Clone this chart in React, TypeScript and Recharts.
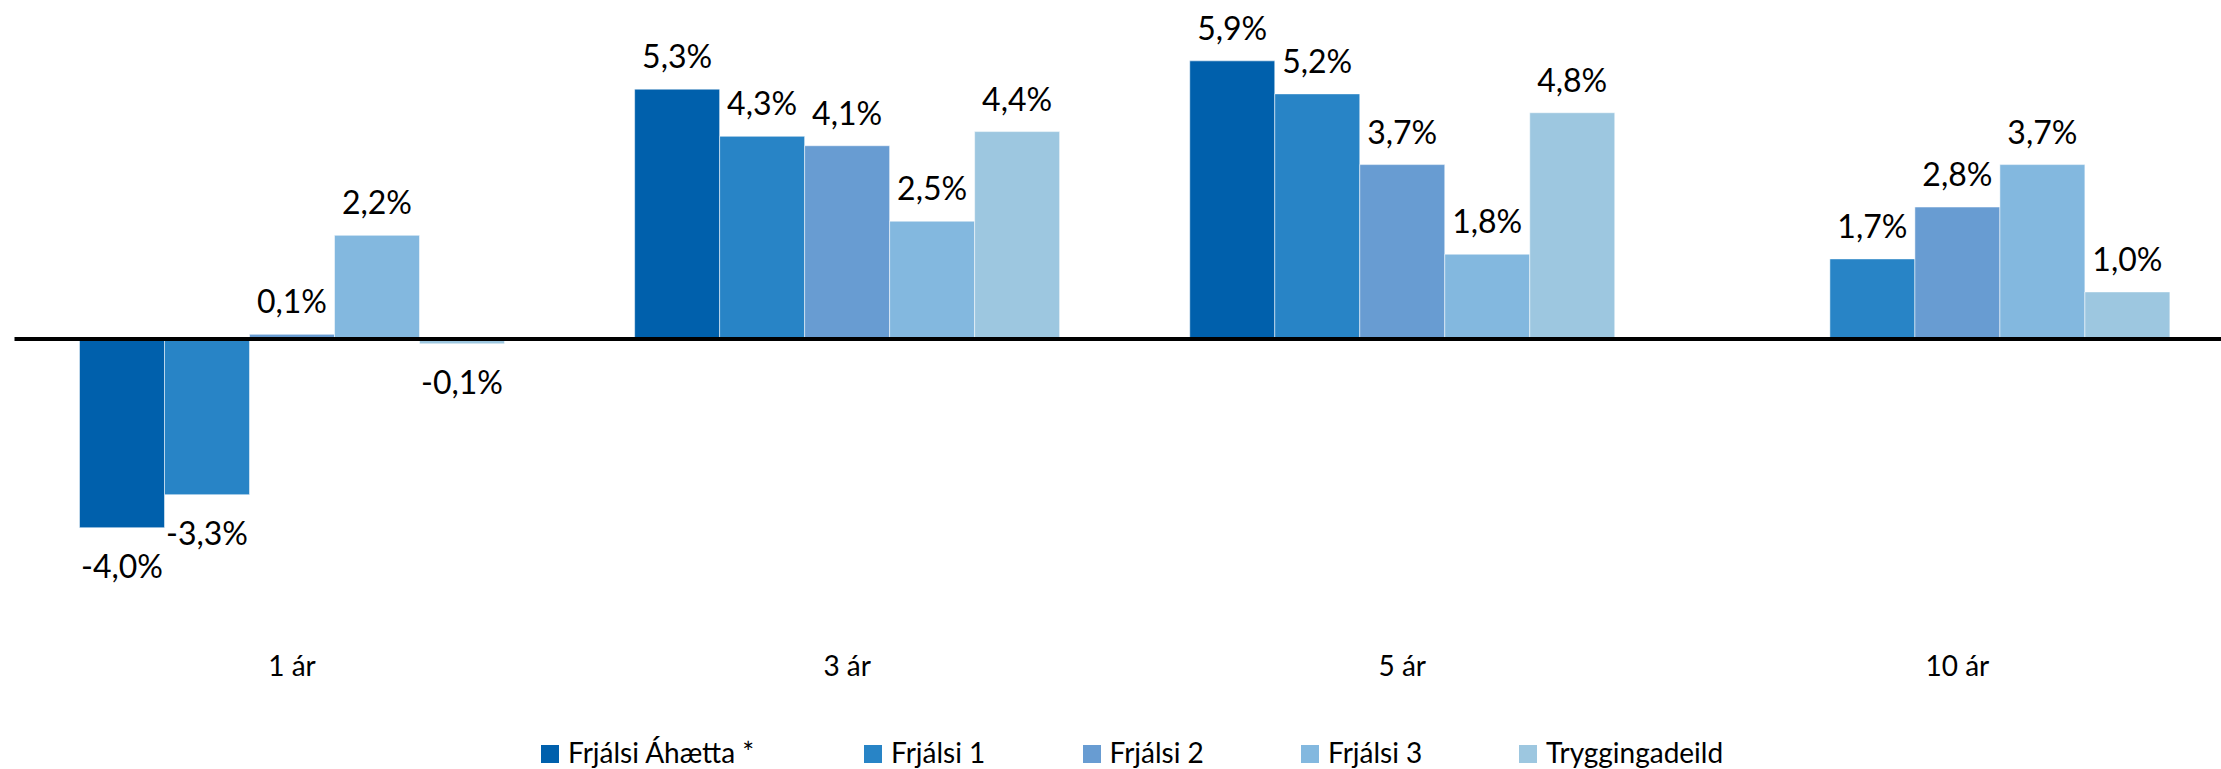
import { BarChart, Bar, XAxis, YAxis, ReferenceLine, LabelList } from 'recharts';

const categories = ['1 ár', '3 ár', '5 ár', '10 ár'];
const seriesNames = ['Frjálsi Áhætta *', 'Frjálsi 1', 'Frjálsi 2', 'Frjálsi 3', 'Tryggingadeild'];
const seriesColors = ['#0060AC', '#2884C6', '#689CD2', '#83B8DF', '#9DC7E0'];

const ahaetta = [-4.0, 5.3, 5.9, null];
const frjalsi1 = [-3.3, 4.3, 5.2, 1.7];
const frjalsi2 = [0.1, 4.1, 3.7, 2.8];
const frjalsi3 = [2.2, 2.5, 1.8, 3.7];
const trygging = [-0.1, 4.4, 4.8, 1.0];

const seriesValues = [ahaetta, frjalsi1, frjalsi2, frjalsi3, trygging];
const keys = ['s0', 's1', 's2', 's3', 's4'];

const data = categories.map((c, i) => {
  const row: Record<string, any> = { name: c };
  keys.forEach((k, j) => {
    row[k] = seriesValues[j][i];
  });
  return row;
});

const FONT = 'Lato, "Open Sans", sans-serif';

const fmt = (v: number) => `${v.toFixed(1).replace('.', ',')}%`;

const renderLabel = (props: any) => {
  const { x, y, width, height, value } = props;
  if (value === null || value === undefined) return null;
  const top = Math.min(y, y + height);
  const bottom = Math.max(y, y + height);
  const cx = x + width / 2;
  const ty = value >= 0 ? top - 21 : bottom + 50;
  return (
    <text x={cx} y={ty} textAnchor="middle" fontSize={32} fill="#000" fontFamily={FONT}>
      {fmt(value)}
    </text>
  );
};

// legend item widths, first one is wider like in the original
const legendWidths = [323, 218.5, 218.5, 218, 218];

export default function App() {
  return (
    <div style={{ position: 'relative', width: 2221, height: 769, overflow: 'hidden', background: '#fff' }}>
      <style>{'body{margin:0}'}</style>
      <BarChart
        width={2235}
        height={769}
        data={data}
        margin={{ top: 9, right: 0, bottom: 0, left: 14.5 }}
        barCategoryGap={65}
        barGap={0}
      >
        <XAxis
          dataKey="name"
          axisLine={false}
          tickLine={false}
          tickSize={0}
          tickMargin={34}
          height={147}
          interval={0}
          tick={{ fontSize: 28, fill: '#000', fontFamily: FONT }}
        />
        <YAxis hide domain={[-6, 7]} />
        {keys.map((k, j) => (
          <Bar
            key={k}
            dataKey={k}
            name={seriesNames[j]}
            fill={seriesColors[j]}
            stroke="#ffffff"
            strokeOpacity={0.5}
            strokeWidth={1}
            isAnimationActive={false}
          >
            <LabelList dataKey={k} content={renderLabel} />
          </Bar>
        ))}
        <ReferenceLine y={0} stroke="#000" strokeWidth={4} />
      </BarChart>
      <div
        style={{
          position: 'absolute',
          left: 541,
          top: 738,
          display: 'flex',
          alignItems: 'flex-start',
          fontFamily: FONT,
          fontSize: 28,
          lineHeight: '28px',
          color: '#000',
          whiteSpace: 'nowrap',
        }}
      >
        {seriesNames.map((n, i) => (
          <div key={n} style={{ width: legendWidths[i], display: 'flex', alignItems: 'flex-start' }}>
            <span
              style={{
                display: 'inline-block',
                width: 18,
                height: 18,
                marginTop: 7,
                background: seriesColors[i],
                marginRight: 9,
              }}
            />
            <span>{n}</span>
          </div>
        ))}
      </div>
    </div>
  );
}
